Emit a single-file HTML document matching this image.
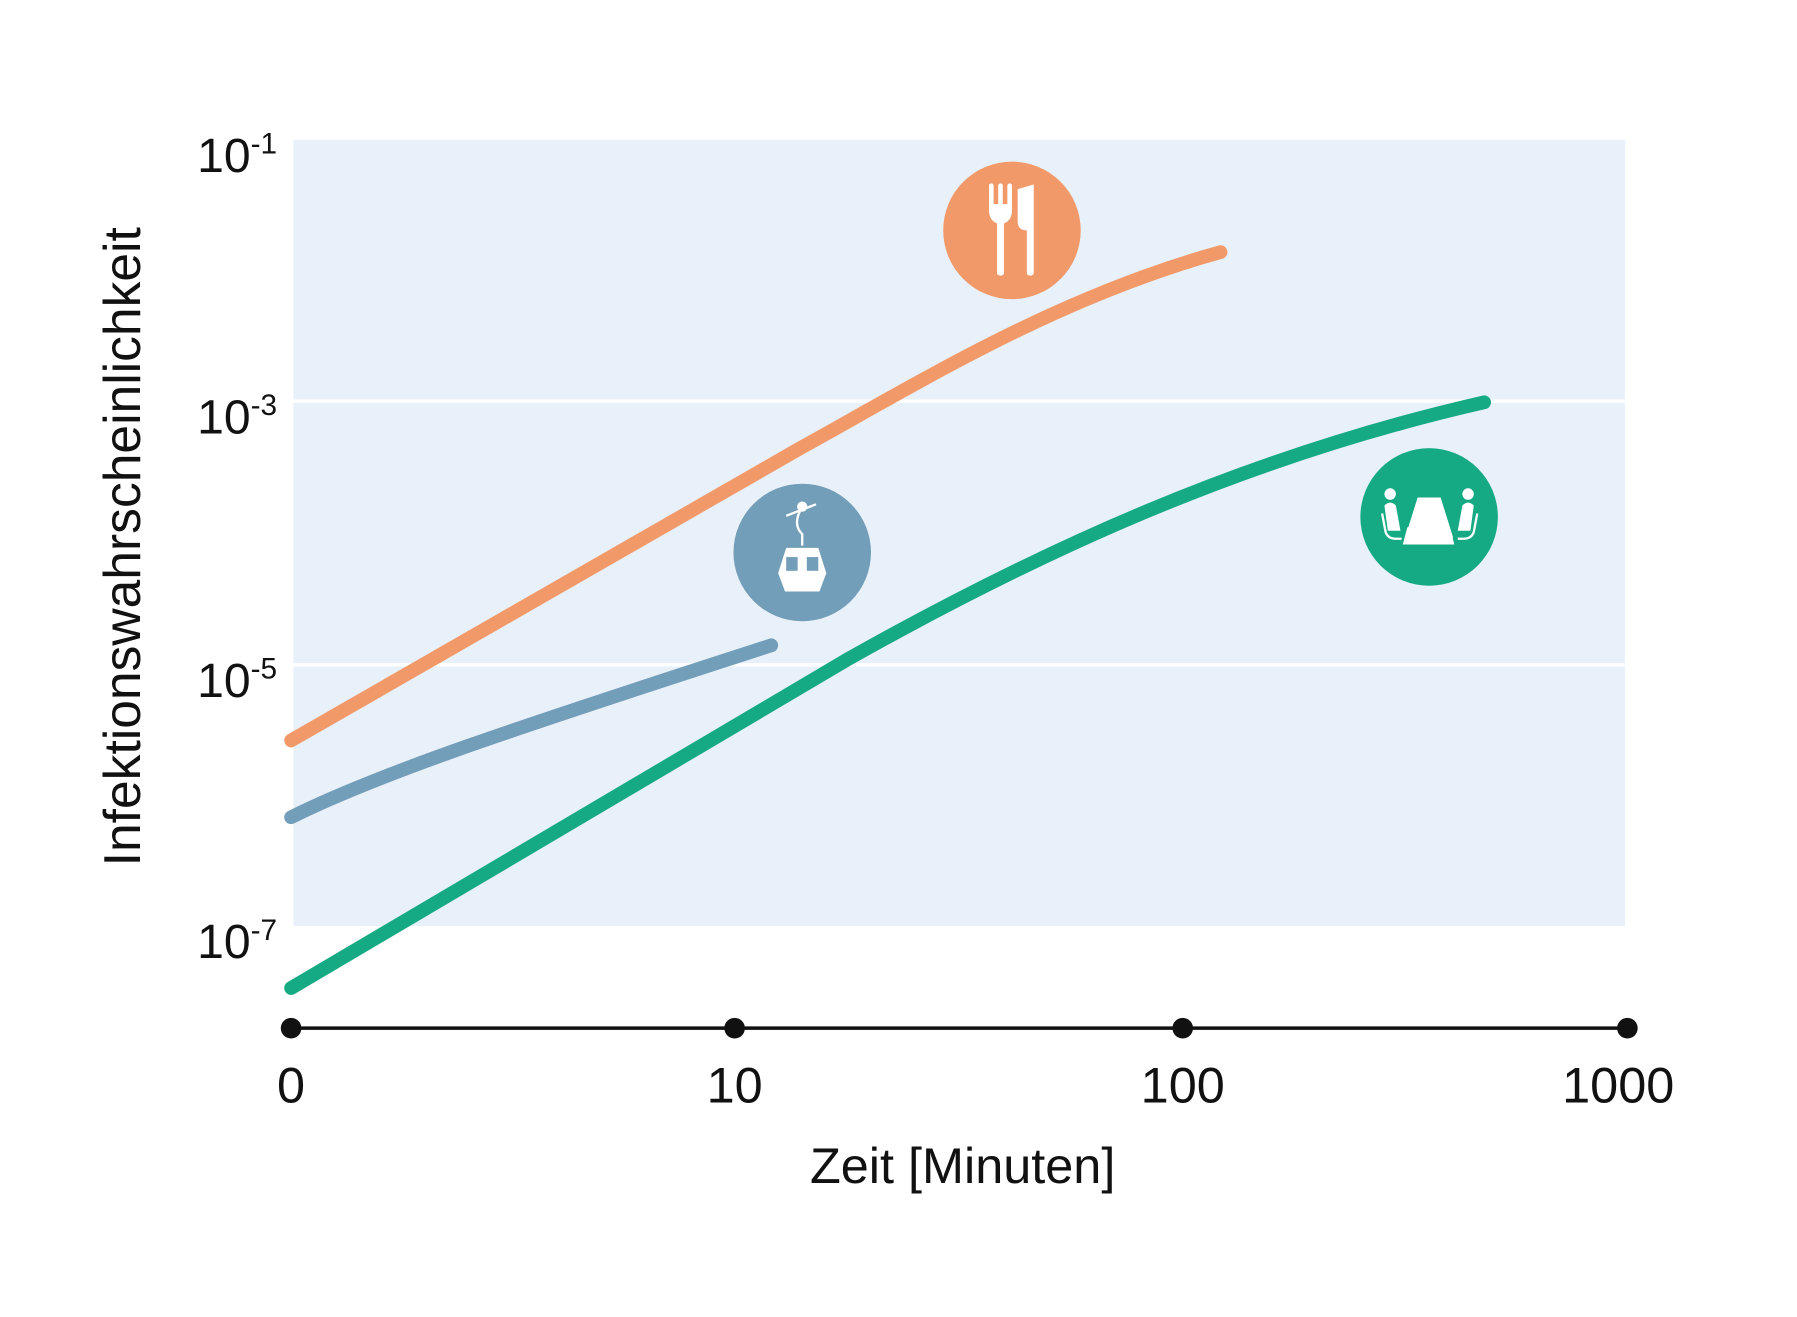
<!DOCTYPE html>
<html><head><meta charset="utf-8"><style>html,body{margin:0;padding:0;background:#fff;}svg{display:block}</style></head>
<body>
<svg width="1797" height="1317" viewBox="0 0 1568 1149" preserveAspectRatio="none" xmlns="http://www.w3.org/2000/svg" font-family="'Liberation Sans Narrow','Liberation Sans',sans-serif">
<rect x="256" y="122" width="1162" height="686" fill="#e8f0f9"/>
<line x1="256" y1="350" x2="1418" y2="350" stroke="#fff" stroke-width="3"/>
<line x1="256" y1="580" x2="1418" y2="580" stroke="#fff" stroke-width="3"/>
<g fill="none" stroke-linecap="round" stroke-width="12">
<path d="M254,646 C420,550 560,470 700,390 C800,335 920,260 1065,220" stroke="#f2996a"/>
<path d="M254,713 C330,675 450,635 673,563" stroke="#739eb9"/>
<path d="M254,862 C420,765 560,680 740,575 C900,485 1080,400 1295,351" stroke="#16aa84"/>
</g>
<circle cx="883" cy="201" r="60" fill="#f2996a"/>
<g fill="#fff">
<rect x="863" y="160" width="4" height="20" rx="2"/><rect x="871" y="160" width="4" height="20" rx="2"/><rect x="879" y="160" width="4" height="20" rx="2"/>
<path d="M863,178 h20 v6 q0,8 -7,11 v44 q-3,3 -6,0 v-44 q-7,-3 -7,-11z"/>
<path d="M888,165 l14,-4 v78 q-3,3 -6,0 v-38 q-8,0 -8,-8z"/>
</g>
<circle cx="700" cy="482" r="60" fill="#739eb9"/>
<g fill="#fff" stroke="#fff">
<line x1="686" y1="450" x2="712" y2="440" stroke-width="2"/>
<circle cx="700" cy="442" r="4"/>
<path d="M698,446 q-6,12 2,20 v10" fill="none" stroke-width="2"/>
<path d="M686,478 h28 l7,22 l-6,16 h-30 l-6,-16z" stroke="none"/>
</g>
<rect x="686" y="486" width="10" height="12" fill="#739eb9"/><rect x="704" y="486" width="10" height="12" fill="#739eb9"/>
<circle cx="1247" cy="451" r="60" fill="#16aa84"/>
<g fill="#fff">
<path d="M1237,434 h20 l11,35 h-42z"/>
<path d="M1228,460 h37 l4,15 h-45z"/>
<circle cx="1213" cy="431" r="5"/><circle cx="1281" cy="431" r="5"/>
<path d="M1208,441 q5,-5 10,0 l4,22 h-11z"/><path d="M1286,441 q-5,-5 -10,0 l-4,22 h11z"/>
</g>
<g fill="none" stroke="#fff" stroke-width="2"><path d="M1206,448 l3,16 q2,6 9,6 h5"/><path d="M1289,448 l-3,16 q-2,6 -9,6 h-5"/></g>
<line x1="254" y1="897" x2="1420" y2="897" stroke="#111" stroke-width="3"/>
<g fill="#111"><circle cx="254" cy="897" r="9"/><circle cx="641" cy="897" r="9"/><circle cx="1032" cy="897" r="9"/><circle cx="1420" cy="897" r="9"/></g>
<g font-size="44" fill="#111" text-anchor="middle">
<text x="254" y="962">0</text><text x="641" y="962">10</text><text x="1032" y="962">100</text><text x="1412" y="962">1000</text>
<text x="840" y="1032">Zeit [Minuten]</text>
</g>
<g font-size="42" fill="#111">
<text x="172" y="150">10<tspan font-size="26" dy="-16">-1</tspan></text>
<text x="172" y="378">10<tspan font-size="26" dy="-16">-3</tspan></text>
<text x="172" y="608">10<tspan font-size="26" dy="-16">-5</tspan></text>
<text x="172" y="836">10<tspan font-size="26" dy="-16">-7</tspan></text>
</g>
<text transform="translate(122,477) rotate(-90)" font-size="45" fill="#111" text-anchor="middle">Infektionswahrscheinlichkeit</text>
</svg>
</body></html>
